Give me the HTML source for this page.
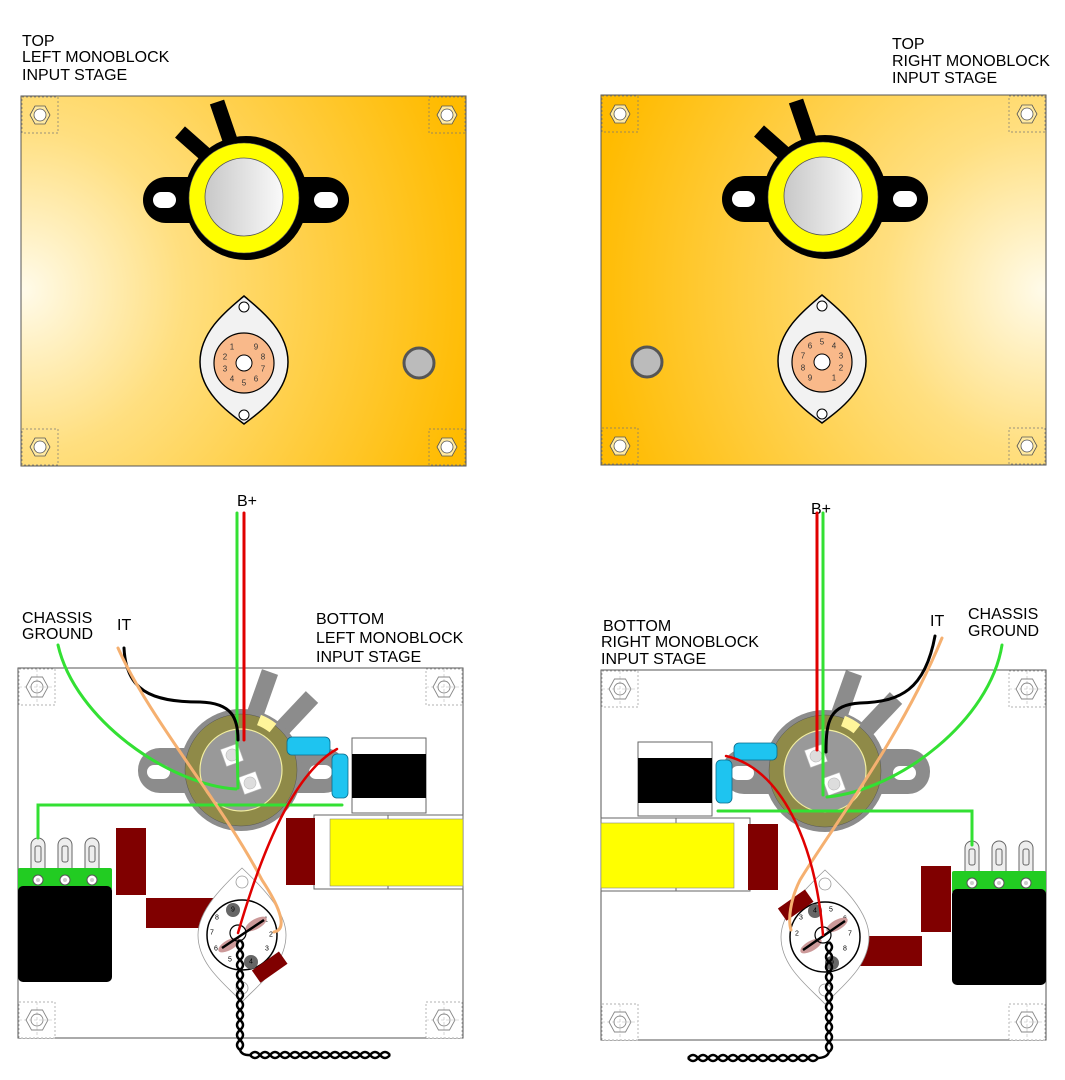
<!DOCTYPE html>
<html><head><meta charset="utf-8"><style>
html,body{margin:0;padding:0;background:#fff;}
svg{display:block;}
text{font-family:"Liberation Sans",sans-serif;}
.lbl{font-size:16px;fill:#000;}
.pn{font-size:8px;fill:#333;text-anchor:middle;dominant-baseline:central;}
.pb{font-size:7px;fill:#000;text-anchor:middle;dominant-baseline:central;}
</style></head><body>
<svg width="1065" height="1080" viewBox="0 0 1065 1080" xmlns="http://www.w3.org/2000/svg">
<defs>
<radialGradient id="gL" gradientUnits="userSpaceOnUse" cx="22" cy="290" r="460">
<stop offset="0" stop-color="#fffbea"/><stop offset="0.35" stop-color="#ffdf80"/><stop offset="1" stop-color="#ffbb00"/></radialGradient>
<radialGradient id="gR" gradientUnits="userSpaceOnUse" cx="1045" cy="290" r="460">
<stop offset="0" stop-color="#fffbea"/><stop offset="0.35" stop-color="#ffdf80"/><stop offset="1" stop-color="#ffbb00"/></radialGradient>
<linearGradient id="gs" x1="0" y1="0" x2="1" y2="0"><stop offset="0" stop-color="#c8c8c8"/><stop offset="1" stop-color="#fafafa"/></linearGradient>
<g id="hexT"><rect x="-18" y="-18" width="36" height="36" fill="none" stroke="#777" stroke-width="0.7" stroke-dasharray="2,2"/><polygon points="-10,0 -5,-9 5,-9 10,0 5,9 -5,9" fill="#ffe9a0" stroke="#555" stroke-width="0.8"/><circle r="6" fill="#fff" stroke="#555" stroke-width="0.8"/></g>
<g id="hexB"><rect x="-18" y="-18" width="36" height="36" fill="#fff" stroke="#999" stroke-width="0.7" stroke-dasharray="2,2"/><line x1="-18" y1="0" x2="18" y2="0" stroke="#bbb" stroke-width="0.6" stroke-dasharray="3,2"/><line x1="0" y1="-18" x2="0" y2="18" stroke="#bbb" stroke-width="0.6" stroke-dasharray="3,2"/><polygon points="-11,0 -5.5,-10 5.5,-10 11,0 5.5,10 -5.5,10" fill="none" stroke="#888" stroke-width="0.9"/><circle r="6" fill="none" stroke="#888" stroke-width="0.9"/></g>
<g id="topSock">
<line x1="-66" y1="-66" x2="-40" y2="-43" stroke="#000" stroke-width="15"/>
<line x1="-29" y1="-96" x2="-15" y2="-55" stroke="#000" stroke-width="15"/>
<rect x="-103" y="-21" width="206" height="46" rx="23" fill="#000"/>
<circle cx="0" cy="0" r="62" fill="#000"/>
<rect x="-93" y="-6" width="23" height="16" rx="8" fill="#fff"/>
<rect x="68" y="-6" width="24" height="16" rx="8" fill="#fff"/>
<circle cx="-2" cy="0" r="55" fill="#ffff00" stroke="#555" stroke-width="0.6"/>
<circle cx="-2" cy="-1" r="39" fill="url(#gs)" stroke="#555" stroke-width="0.8"/>
</g>
<g id="nine">
<path d="M0,-64 C14,-52 44,-30 44,2 C44,32 16,52 0,64 C-16,52 -44,32 -44,2 C-44,-30 -14,-52 0,-64Z" fill="#f2f2f2" stroke="#000" stroke-width="1.5"/>
<circle cx="0" cy="-53" r="5" fill="#fff" stroke="#000" stroke-width="1"/>
<circle cx="0" cy="55" r="5" fill="#fff" stroke="#000" stroke-width="1"/>
<circle cx="0" cy="3" r="30" fill="#f9b98a" stroke="#000" stroke-width="1.2"/>
<circle cx="0" cy="3" r="8" fill="#fff" stroke="#000" stroke-width="1"/>
</g>
<g id="tube">
<line x1="29" y1="-98" x2="12" y2="-50" stroke="#8c8c8c" stroke-width="17"/>
<line x1="71" y1="-73" x2="38" y2="-38" stroke="#8c8c8c" stroke-width="17"/>
<rect x="-103" y="-22" width="208" height="45" rx="22" fill="#8c8c8c"/>
<rect x="-94" y="-5" width="23" height="14" rx="7" fill="#fff"/>
<rect x="68" y="-5" width="23" height="14" rx="7" fill="#fff"/>
<circle r="61" fill="#8c8c8c"/>
<circle r="56" fill="#8f8a48" stroke="#555" stroke-width="0.5"/>
<path d="M18,-50 A53,53 0 0 1 32,-42" stroke="#fff59a" stroke-width="11" fill="none"/>
<circle r="41" fill="#999" stroke="#f2eea0" stroke-width="1.2"/>
<g transform="translate(-9,-15) rotate(-20)"><rect x="-9" y="-9" width="18" height="18" fill="#fff" stroke="#bbb" stroke-width="0.6"/><circle r="6" fill="#ddd" stroke="#bbb" stroke-width="0.6"/></g>
<g transform="translate(9,13) rotate(-20)"><rect x="-9" y="-9" width="18" height="18" fill="#fff" stroke="#bbb" stroke-width="0.6"/><circle r="6" fill="#ddd" stroke="#bbb" stroke-width="0.6"/></g>
</g>
<g id="bsock">
<path d="M0,-67 C18,-50 44,-25 44,0 C44,30 16,50 0,67 C-16,50 -44,30 -44,0 C-44,-25 -18,-50 0,-67Z" fill="#fff" stroke="#999" stroke-width="0.8"/>
<circle cx="0" cy="-53" r="6" fill="#fff" stroke="#999" stroke-width="0.8"/>
<circle cx="0" cy="53" r="6" fill="#fff" stroke="#999" stroke-width="0.8"/>
<circle r="35" fill="#fff" stroke="#000" stroke-width="1.5"/>
</g>
<g id="pot">
<g fill="#eee" stroke="#666" stroke-width="1">
<path d="M13,870 L13,845 A7,7 0 0 1 27,845 L27,870Z"/><path d="M40,870 L40,845 A7,7 0 0 1 54,845 L54,870Z"/><path d="M67,870 L67,845 A7,7 0 0 1 81,845 L81,870Z"/>
<rect x="17" y="846" width="6" height="16" rx="2"/><rect x="44" y="846" width="6" height="16" rx="2"/><rect x="71" y="846" width="6" height="16" rx="2"/>
</g>
<rect x="0" y="868" width="94" height="22" rx="2" fill="#22cc22"/>
<rect x="0" y="886" width="94" height="96" rx="5" fill="#000"/>
<g fill="#fff" stroke="#555" stroke-width="1"><circle cx="20" cy="880" r="5"/><circle cx="47" cy="880" r="5"/><circle cx="74" cy="880" r="5"/></g>
<g fill="#ccc"><circle cx="20" cy="880" r="2"/><circle cx="47" cy="880" r="2"/><circle cx="74" cy="880" r="2"/></g>
</g>
</defs>

<text class="lbl" x="22" y="46">TOP</text>
<text class="lbl" x="22" y="62">LEFT MONOBLOCK</text>
<text class="lbl" x="22" y="80">INPUT STAGE</text>
<text class="lbl" x="892" y="49">TOP</text>
<text class="lbl" x="892" y="66">RIGHT MONOBLOCK</text>
<text class="lbl" x="892" y="83">INPUT STAGE</text>

<rect x="21" y="96" width="445" height="370" fill="url(#gL)" stroke="#555" stroke-width="1"/>
<use href="#hexT" x="40" y="115"/><use href="#hexT" x="447" y="115"/><use href="#hexT" x="40" y="447"/><use href="#hexT" x="447" y="447"/>
<use href="#topSock" x="246" y="198"/>
<use href="#nine" x="244" y="360"/>
<circle cx="419" cy="363" r="15" fill="#bbb" stroke="#555" stroke-width="3"/>
<g transform="translate(244,363)">
<text class="pn" x="-12" y="-16">1</text><text class="pn" x="-19" y="-6">2</text><text class="pn" x="-19" y="6">3</text><text class="pn" x="-12" y="16">4</text><text class="pn" x="0" y="20">5</text><text class="pn" x="12" y="16">6</text><text class="pn" x="19" y="6">7</text><text class="pn" x="19" y="-6">8</text><text class="pn" x="12" y="-16">9</text>
</g>

<rect x="601" y="95" width="445" height="370" fill="url(#gR)" stroke="#555" stroke-width="1"/>
<use href="#hexT" x="620" y="114"/><use href="#hexT" x="1027" y="114"/><use href="#hexT" x="620" y="446"/><use href="#hexT" x="1027" y="446"/>
<use href="#topSock" x="825" y="197"/>
<use href="#nine" x="822" y="359"/>
<circle cx="647" cy="362" r="15" fill="#bbb" stroke="#555" stroke-width="3"/>
<g transform="translate(822,362)">
<text class="pn" x="12" y="16">1</text><text class="pn" x="19" y="6">2</text><text class="pn" x="19" y="-6">3</text><text class="pn" x="12" y="-16">4</text><text class="pn" x="0" y="-20">5</text><text class="pn" x="-12" y="-16">6</text><text class="pn" x="-19" y="-6">7</text><text class="pn" x="-19" y="6">8</text><text class="pn" x="-12" y="16">9</text>
</g>

<text class="lbl" x="237" y="506">B+</text>
<text class="lbl" x="22" y="623">CHASSIS</text>
<text class="lbl" x="22" y="639">GROUND</text>
<text class="lbl" x="117" y="630">IT</text>
<text class="lbl" x="316" y="624">BOTTOM</text>
<text class="lbl" x="316" y="643">LEFT MONOBLOCK</text>
<text class="lbl" x="316" y="662">INPUT STAGE</text>
<rect x="18" y="668" width="445" height="370" fill="#fff" stroke="#555" stroke-width="1"/>
<use href="#hexB" x="37" y="687"/><use href="#hexB" x="444" y="687"/><use href="#hexB" x="37" y="1020"/><use href="#hexB" x="444" y="1020"/>
<use href="#tube" x="241" y="770"/>
<rect x="287" y="737" width="43" height="18" rx="5" fill="#1ec4f0" stroke="#0a6b8a" stroke-width="0.8"/>
<rect x="332" y="754" width="16" height="44" rx="5" fill="#1ec4f0" stroke="#0a6b8a" stroke-width="0.8"/>
<rect x="352" y="738" width="74" height="75" fill="#fff" stroke="#666" stroke-width="1"/>
<rect x="352" y="754" width="74" height="44" fill="#000"/>
<rect x="314" y="815" width="149" height="74" fill="#fff" stroke="#666" stroke-width="1"/>
<line x1="388" y1="815" x2="388" y2="889" stroke="#666"/>
<rect x="330" y="819" width="133" height="67" fill="#ffff00" stroke="#888" stroke-width="0.6"/>
<rect x="286" y="818" width="29" height="67" fill="#800000"/>
<rect x="116" y="828" width="30" height="67" fill="#800000"/>
<rect x="146" y="898" width="67" height="30" fill="#800000"/>
<use href="#pot" x="18" y="0"/>
<use href="#bsock" x="242" y="935"/>
<g transform="translate(242,935)">
<circle cx="-9" cy="-25" r="7" fill="#666"/><circle cx="9" cy="27" r="7" fill="#666"/>
<text class="pb" x="-9" y="-25" fill="#fff">9</text><text class="pb" x="9" y="27">4</text>
<text class="pb" x="-25" y="-17">8</text><text class="pb" x="-30" y="-2">7</text><text class="pb" x="-26" y="14">6</text><text class="pb" x="-12" y="25">5</text><text class="pb" x="25" y="14">3</text><text class="pb" x="29" y="0">2</text><text class="pb" x="24" y="-15">1</text>
<ellipse cx="14" cy="-11" rx="12" ry="5" transform="rotate(-30 14 -11)" fill="#c99" />
<ellipse cx="-13" cy="10" rx="12" ry="5" transform="rotate(-30 -13 10)" fill="#c99"/>
<line x1="-20" y1="13" x2="22" y2="-15" stroke="#000" stroke-width="2.5"/>
<circle cx="-4" cy="-2" r="8" fill="none" stroke="#000" stroke-width="1.2"/>
</g>
<rect x="-16" y="-7" width="33" height="15" fill="#800000" transform="translate(269,967) rotate(-35)"/>
<g fill="none" stroke-width="3" stroke-linecap="round">
<path d="M38 838 L38 805 L342 805" stroke="#33e033"/>
<path d="M237 513 L237 745 L238 788" stroke="#33e033"/>
<path d="M244 513 L244 740" stroke="#e00000"/>
<path d="M124 648 C 126 690, 150 702, 200 702 C 232 703, 238 718, 238 740" stroke="#000"/>
<path d="M58 645 C 75 720, 170 785, 236 789" stroke="#33e033"/>
<path d="M118 648 C 150 720, 220 800, 262 880 C 285 915, 285 930, 274 932" stroke="#f5b070"/>
<path d="M337 749 C 300 770, 268 830, 238 933" stroke="#e00000" stroke-width="2.5"/>
</g>
<g fill="none" stroke="#000" stroke-width="2.5">
<path d="M240 940 q6 5 0 10 t0 10 t0 10 t0 10 t0 10 t0 10 t0 10 t0 10 t0 10 t0 10 t0 10"/>
<path d="M240 940 q-6 5 0 10 t0 10 t0 10 t0 10 t0 10 t0 10 t0 10 t0 10 t0 10 t0 10 t0 10"/>
<path d="M240 1050 q2 6 12 5"/>
<path d="M250 1055 q5 -6 10 0 t10 0 t10 0 t10 0 t10 0 t10 0 t10 0 t10 0 t10 0 t10 0 t10 0 t10 0 t10 0 t10 0"/>
<path d="M250 1055 q5 6 10 0 t10 0 t10 0 t10 0 t10 0 t10 0 t10 0 t10 0 t10 0 t10 0 t10 0 t10 0 t10 0 t10 0"/>
</g>

<text class="lbl" x="811" y="514">B+</text>
<text class="lbl" x="968" y="619">CHASSIS</text>
<text class="lbl" x="968" y="636">GROUND</text>
<text class="lbl" x="930" y="626">IT</text>
<text class="lbl" x="603" y="631">BOTTOM</text>
<text class="lbl" x="601" y="647">RIGHT MONOBLOCK</text>
<text class="lbl" x="601" y="664">INPUT STAGE</text>
<rect x="601" y="670" width="445" height="370" fill="#fff" stroke="#555" stroke-width="1"/>
<use href="#hexB" x="620" y="689"/><use href="#hexB" x="1027" y="689"/><use href="#hexB" x="620" y="1022"/><use href="#hexB" x="1027" y="1022"/>
<use href="#tube" x="825" y="771"/>
<rect x="734" y="743" width="43" height="17" rx="5" fill="#1ec4f0" stroke="#0a6b8a" stroke-width="0.8"/>
<rect x="716" y="760" width="16" height="43" rx="5" fill="#1ec4f0" stroke="#0a6b8a" stroke-width="0.8"/>
<rect x="638" y="742" width="74" height="74" fill="#fff" stroke="#666" stroke-width="1"/>
<rect x="638" y="758" width="74" height="45" fill="#000"/>
<rect x="601" y="818" width="149" height="73" fill="#fff" stroke="#666" stroke-width="1"/>
<line x1="676" y1="818" x2="676" y2="891" stroke="#666"/>
<rect x="601" y="823" width="133" height="65" fill="#ffff00" stroke="#888" stroke-width="0.6"/>
<rect x="748" y="824" width="30" height="66" fill="#800000"/>
<rect x="921" y="866" width="30" height="66" fill="#800000"/>
<rect x="855" y="936" width="67" height="30" fill="#800000"/>
<use href="#pot" x="952" y="3"/>
<use href="#bsock" x="825" y="937"/>
<g transform="translate(825,937)">
<circle cx="-10" cy="-26" r="7" fill="#666"/><circle cx="7" cy="26" r="7" fill="#666"/>
<text class="pb" x="-10" y="-26" fill="#fff">4</text><text class="pb" x="7" y="26" fill="#fff">9</text>
<text class="pb" x="6" y="-27">5</text><text class="pb" x="20" y="-18">6</text><text class="pb" x="25" y="-3">7</text><text class="pb" x="20" y="12">8</text><text class="pb" x="-24" y="-19">3</text><text class="pb" x="-28" y="-3">2</text><text class="pb" x="-22" y="13">1</text>
<ellipse cx="12" cy="-12" rx="12" ry="5" transform="rotate(-30 12 -12)" fill="#c99"/>
<ellipse cx="-14" cy="9" rx="12" ry="5" transform="rotate(-30 -14 9)" fill="#c99"/>
<line x1="-22" y1="13" x2="20" y2="-16" stroke="#000" stroke-width="2.5"/>
<circle cx="-2" cy="-2" r="8" fill="none" stroke="#000" stroke-width="1.2"/>
</g>
<rect x="-16" y="-7" width="33" height="15" fill="#800000" transform="translate(795,905) rotate(-35)"/>
<g fill="none" stroke-width="3" stroke-linecap="round">
<path d="M718 811 L972 811 L972 845" stroke="#33e033"/>
<path d="M823 513 L823 795" stroke="#33e033"/>
<path d="M817 513 L817 750" stroke="#e00000"/>
<path d="M935 636 C 925 690, 900 702, 860 703 C 830 705, 826 720, 826 752" stroke="#000"/>
<path d="M1002 645 C 990 720, 900 790, 827 797" stroke="#33e033"/>
<path d="M942 638 C 900 740, 830 830, 800 880 C 790 900, 788 920, 791 930" stroke="#f5b070"/>
<path d="M726 756 C 780 768, 815 840, 823 935" stroke="#e00000" stroke-width="2.5"/>
</g>
<g fill="none" stroke="#000" stroke-width="2.5">
<path d="M829 942 q6 5 0 10 t0 10 t0 10 t0 10 t0 10 t0 10 t0 10 t0 10 t0 10 t0 10 t0 10"/>
<path d="M829 942 q-6 5 0 10 t0 10 t0 10 t0 10 t0 10 t0 10 t0 10 t0 10 t0 10 t0 10 t0 10"/>
<path d="M829 1052 q-2 6 -12 6"/>
<path d="M818 1058 q-5 -6 -10 0 t-10 0 t-10 0 t-10 0 t-10 0 t-10 0 t-10 0 t-10 0 t-10 0 t-10 0 t-10 0 t-10 0 t-10 0"/>
<path d="M818 1058 q-5 6 -10 0 t-10 0 t-10 0 t-10 0 t-10 0 t-10 0 t-10 0 t-10 0 t-10 0 t-10 0 t-10 0 t-10 0 t-10 0"/>
</g>
</svg>
</body></html>
